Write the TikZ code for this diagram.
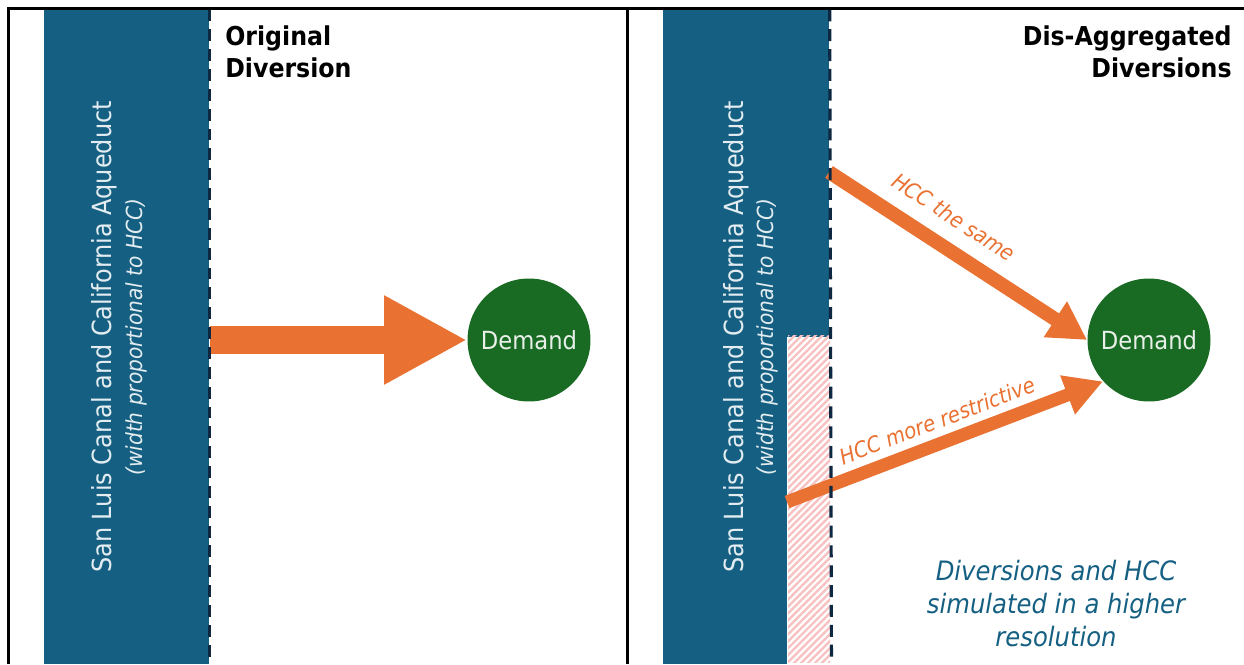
\documentclass[tikz,border=0pt]{standalone}
\usepackage{fontspec}
\setmainfont{DejaVu Sans}[FakeStretch=0.91]
\usetikzlibrary{arrows.meta,patterns.meta}

\definecolor{canalBlue}{HTML}{156082}
\definecolor{canalRim}{HTML}{0E2841}
\definecolor{flowOrange}{HTML}{E97132}
\definecolor{demandGreen}{HTML}{196B24}
\definecolor{hccPink}{HTML}{F7C2C2}

\begin{document}
\begin{tikzpicture}[x=0.02cm, y=0.02cm, every node/.style={inner sep=0pt},
  canalbar/.style={fill=canalBlue, draw=none, anchor=south west},
  rim/.style={canalRim, line width=1.8pt, dash pattern=on 6.8pt off 4.5pt},
  dmd/.style={circle, fill=demandGreen, minimum size=2.46cm, text=white!90!demandGreen,
    font=\fontsize{14.2}{17}\selectfont},
  bartext/.style={rotate=90, anchor=base, text=white!88!canalBlue, font=\fontsize{15}{18}\selectfont},
  barnote/.style={rotate=90, anchor=base, text=white!88!canalBlue, font=\itshape\fontsize{12.6}{15}\selectfont},
  paneltitle/.style={font=\bfseries\fontsize{14.8}{18.7}\selectfont},
  flowlabel/.style={sloped, text=flowOrange, font=\itshape\fontsize{12.4}{15}\selectfont}]
\useasboundingbox (0,0) rectangle (1244,664);

% canals
\node[canalbar, minimum width=3.3cm, minimum height=13.08cm] (barL) at (44,0) {};
\node[canalbar, minimum width=2.48cm, minimum height=13.08cm] (barR) at (663,0) {};
\node[canalbar, minimum width=0.84cm, minimum height=6.54cm] (barRtop) at (787,327) {};
\node[anchor=south west, minimum width=0.84cm, minimum height=6.54cm,
  pattern={Lines[angle=45, distance=2.8pt, line width=1.4pt]}, pattern color=hccPink] (hcc) at (787,0) {};

\node[bartext] (nameL) at (111,327) {San Luis Canal and California Aqueduct};
\node[barnote] (noteL) at (142,327) {(width proportional to HCC)};
\node[bartext] (nameR) at (743,327) {San Luis Canal and California Aqueduct};
\node[barnote] (noteR) at (773,327) {(width proportional to HCC)};

% demands
\node[dmd] (dmdL) at (529,324) {Demand};
\node[dmd] (dmdR) at (1149,324) {Demand};

\coordinate (sameOut) at (829,492);
\coordinate (restOut) at (787,162);

\draw[flowOrange, line width=0.56cm, -{Triangle[length=1.66cm, width=1.66cm]}] (barL.east |- dmdL) -- (dmdL.west);
\draw[flowOrange, line width=0.28cm, -{Triangle[length=0.76cm, width=0.8cm]}] (sameOut) -- (dmdR.west)
  node[flowlabel, pos=0.42, above=8.5pt] (lblSame) {HCC the same};
\draw[flowOrange, line width=0.26cm, -{Triangle[length=0.76cm, width=0.78cm]}] (restOut) -- (dmdR.222)
  node[flowlabel, pos=0.5, above=4.3pt] (lblRest) {HCC more restrictive};

\draw[rim] (barL.north east) -- (barL.south east);
\draw[rim] (barRtop.north east) -- (hcc.south east);

% frame
\draw[line width=2pt] (8.5,0) -- (8.5,655.5) -- (1244,655.5);
\draw[line width=1.7pt] (627.3,0) -- (627.3,655.5);

\node[paneltitle, align=left, anchor=base west] (ttlL) at (225,586) {Original\\Diversion};
\node[paneltitle, align=right, anchor=base east] (ttlR) at (1232,586) {Dis-Aggregated\\Diversions};

\node[align=center, anchor=base, text=canalBlue, font=\itshape\fontsize{15.2}{18.7}\selectfont] (note) at (1056,18)
  {Diversions and HCC\\simulated in a higher\\resolution};

\end{tikzpicture}
\end{document}
